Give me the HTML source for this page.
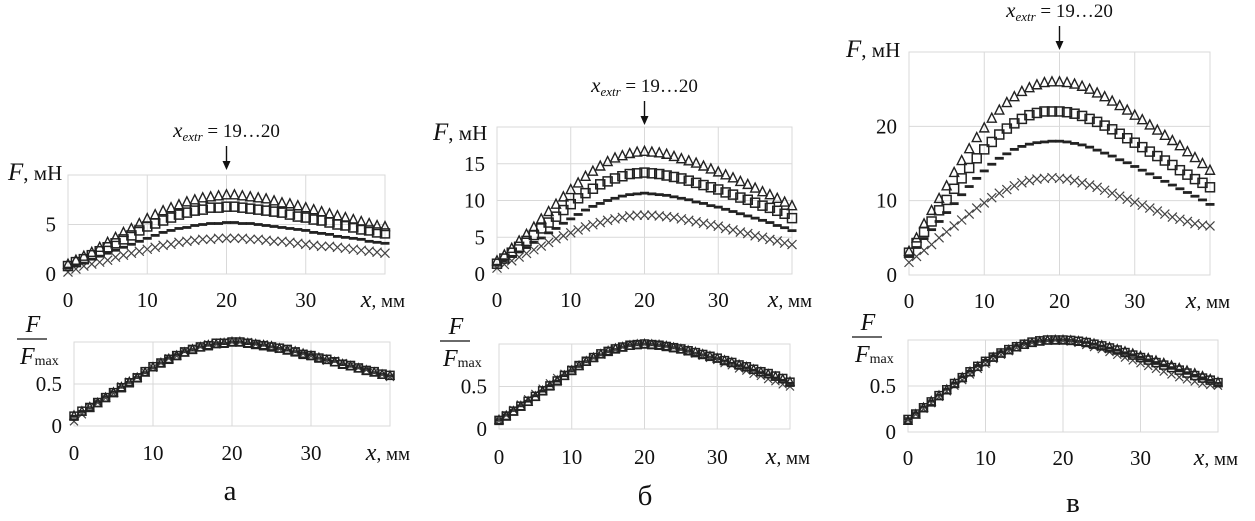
<!DOCTYPE html>
<html><head><meta charset="utf-8">
<style>
html,body{margin:0;padding:0;background:#fff;}
svg{display:block;}
text{font-family:"Liberation Serif",serif;fill:#111;}
</style></head>
<body>
<svg id="fig" width="1255" height="521" viewBox="0 0 1255 521" xmlns="http://www.w3.org/2000/svg"></svg>
<script>
const xValues = Array.from({length:41},(_, i)=>i);
const aTri = [1.0,1.4,1.8,2.2,2.7,3.2,3.7,4.2,4.6,5.1,5.6,6.0,6.4,6.7,7.0,7.3,7.5,7.7,7.8,7.9,8.0,8.0,7.9,7.8,7.7,7.6,7.4,7.2,7.1,6.9,6.7,6.5,6.3,6.1,5.9,5.7,5.5,5.3,5.1,4.9,4.8];
const aSq = [0.8,1.2,1.5,1.9,2.3,2.7,3.1,3.5,3.9,4.4,4.8,5.1,5.4,5.7,6.0,6.2,6.4,6.5,6.7,6.7,6.8,6.8,6.7,6.6,6.5,6.4,6.3,6.2,6.0,5.8,5.7,5.5,5.4,5.2,5.0,4.9,4.7,4.5,4.4,4.2,4.1];
const aDash = [0.6,0.9,1.1,1.5,1.8,2.1,2.4,2.7,3.0,3.3,3.6,3.9,4.2,4.4,4.6,4.7,4.9,5.0,5.1,5.1,5.2,5.2,5.1,5.1,5.0,4.9,4.8,4.7,4.6,4.5,4.4,4.2,4.1,4.0,3.8,3.7,3.6,3.5,3.3,3.2,3.1];
const aX = [0.2,0.5,0.8,1.0,1.2,1.4,1.7,1.9,2.1,2.3,2.5,2.7,2.9,3.0,3.2,3.3,3.4,3.5,3.5,3.6,3.6,3.6,3.6,3.5,3.5,3.4,3.3,3.3,3.2,3.1,3.0,2.9,2.8,2.8,2.7,2.6,2.5,2.4,2.3,2.2,2.1];
const bTri = [1.8,2.6,3.5,4.5,5.4,6.4,7.5,8.5,9.5,10.5,11.5,12.4,13.3,14.0,14.7,15.3,15.8,16.1,16.4,16.6,16.7,16.6,16.5,16.3,16.0,15.7,15.4,15.1,14.7,14.3,13.9,13.5,13.1,12.6,12.2,11.7,11.2,10.8,10.3,9.8,9.3];
const bSq = [1.4,2.1,2.9,3.7,4.5,5.3,6.2,7.0,7.8,8.7,9.5,10.3,11.0,11.6,12.2,12.6,13.0,13.3,13.6,13.7,13.8,13.7,13.6,13.4,13.2,13.0,12.7,12.4,12.1,11.8,11.5,11.1,10.8,10.4,10.1,9.7,9.3,9.0,8.6,8.2,7.6];
const bDash = [1.2,1.8,2.4,3.0,3.6,4.3,4.9,5.6,6.2,6.9,7.5,8.1,8.7,9.2,9.6,10.0,10.3,10.6,10.8,10.9,11.0,10.9,10.8,10.7,10.5,10.3,10.1,9.8,9.6,9.3,9.1,8.8,8.5,8.2,7.9,7.6,7.3,7.0,6.6,6.3,5.9];
const bX = [0.8,1.3,1.8,2.3,2.8,3.3,3.8,4.3,4.8,5.2,5.6,6.0,6.4,6.7,7.0,7.3,7.5,7.7,7.9,8.0,8.0,8.0,7.9,7.8,7.7,7.5,7.3,7.1,6.9,6.7,6.5,6.2,6.0,5.7,5.5,5.2,5.0,4.7,4.5,4.2,4.0];
const cTri = [3.2,5.0,6.9,8.7,10.3,12.0,13.8,15.4,17.0,18.5,19.8,21.1,22.2,23.2,24.0,24.7,25.2,25.6,25.9,26.0,26.0,25.9,25.7,25.4,25.0,24.5,24.0,23.4,22.8,22.2,21.5,20.9,20.2,19.5,18.8,18.1,17.4,16.6,15.8,15.0,14.1];
const cSq = [3.0,4.3,5.8,7.2,8.7,10.1,11.6,13.0,14.4,15.7,16.9,17.9,18.9,19.7,20.4,21.0,21.5,21.8,22.0,22.0,22.0,21.9,21.7,21.4,21.0,20.6,20.1,19.6,19.0,18.4,17.8,17.2,16.6,16.0,15.4,14.8,14.1,13.5,12.9,12.4,11.8];
const cDash = [2.6,3.7,4.9,6.1,7.2,8.4,9.6,10.8,11.9,13.0,14.0,14.9,15.7,16.3,16.9,17.3,17.6,17.8,17.9,18.0,18.0,17.9,17.7,17.5,17.2,16.8,16.4,16.0,15.5,15.1,14.6,14.1,13.6,13.1,12.6,12.1,11.6,11.1,10.6,10.1,9.5];
const cX = [1.7,2.5,3.3,4.1,5.0,5.8,6.6,7.4,8.2,9.0,9.7,10.4,11.0,11.5,12.0,12.4,12.7,12.9,13.0,13.1,13.0,12.9,12.7,12.4,12.1,11.8,11.4,11.0,10.6,10.2,9.8,9.4,9.0,8.6,8.2,7.8,7.5,7.2,6.9,6.7,6.6];
const xTicks = [0,10,20,30];
const aYTicks = [0,5], bYTicks = [0,5,10,15], cYTicks = [0,10,20];
const normTicks = [0,0.5];
const normTickLabels = ["0","0.5"];

const NS="http://www.w3.org/2000/svg";
const svg=document.getElementById('fig');
function mk(tag,attrs,parent){const e=document.createElementNS(NS,tag);for(const k in attrs)e.setAttribute(k,attrs[k]);(parent||svg).appendChild(e);return e;}

function marker(g,type,cx,cy,s){
  let e;
  if(type==='tri'){e=mk('polygon',{points:`${cx},${cy-s*0.55} ${cx-s*0.5},${cy+s*0.45} ${cx+s*0.5},${cy+s*0.45}`,fill:'none',stroke:'#222','stroke-width':1.4},g);}
  else if(type==='sq'){e=mk('rect',{x:cx-s/2,y:cy-s/2,width:s,height:s,fill:'none',stroke:'#222','stroke-width':1.5},g);}
  else if(type==='dash'){e=mk('rect',{x:cx-s/2,y:cy-1.4,width:s,height:2.8,fill:'#222'},g);}
  else {const h=s/2;e=mk('path',{d:`M${cx-h},${cy-h}L${cx+h},${cy+h}M${cx-h},${cy+h}L${cx+h},${cy-h}`,stroke:'#444','stroke-width':1.2},g);}
  
  
}

function plot(cfg){
  const g=mk('g',{});
  
  
  const sx=v=>cfg.x0+(v/40)*(cfg.x40-cfg.x0);
  const sy=v=>cfg.y0-(v/cfg.ymax)*(cfg.y0-cfg.yTop);
  const grid=mk('g',{},g);
  
  
  mk('rect',{x:cfg.x0,y:cfg.yTop,width:cfg.x40-cfg.x0,height:cfg.y0-cfg.yTop,fill:'none',stroke:'#d9d9d9','stroke-width':1},grid);
  xTicks.forEach(t=>{mk('line',{x1:sx(t),x2:sx(t),y1:cfg.yTop,y2:cfg.y0,stroke:'#d9d9d9'},grid);
    const tl=mk('text',{x:sx(t),y:cfg.xLabY,'text-anchor':'middle','font-size':21},g);tl.textContent=t;
    });
  cfg.yTicks.forEach((t,i)=>{mk('line',{x1:cfg.x0,x2:cfg.x40,y1:sy(t),y2:sy(t),stroke:'#d9d9d9'},grid);
    const tl=mk('text',{x:cfg.x0-12,y:sy(t)+7,'text-anchor':'end','font-size':21},g);tl.textContent=cfg.yLabels?cfg.yLabels[i]:t;
    });
  const xl=mk('text',{x:cfg.x40+20,y:cfg.xLabY,'text-anchor':'end','font-size':19},g);
  xl.innerHTML='<tspan font-style="italic" font-size="24">x</tspan>, мм';
  
  const types=['dash','x','sq','tri'];
  cfg.series.forEach((ser,si)=>{
    const sg=mk('g',{},g);
    
    
    const mx=Math.max(...ser);
    xValues.forEach((xv,i)=>{const v=cfg.norm?ser[i]/mx:ser[i];marker(sg,types[si],sx(xv),sy(v),cfg.ms);});
  });
  return {sx,sy};
}

function topPanel(cfg,ann){
  const p=plot(cfg);
  const fl=mk('text',{x:cfg.fx,y:cfg.fy,'font-size':21});
  fl.innerHTML='<tspan font-style="italic" font-size="25">F</tspan>, мН';
  
  const cx=p.sx(20);
  const at=mk('text',{x:cx,y:ann,'text-anchor':'middle','font-size':19});
  at.innerHTML='<tspan font-style="italic" font-size="21">x</tspan><tspan font-style="italic" font-size="13" dy="4">extr</tspan><tspan dy="-4"> = 19…20</tspan>';
  
  const ar=mk('g',{});
  
  mk('line',{x1:cx,x2:cx,y1:ann+9,y2:ann+28,stroke:'#111','stroke-width':1.4},ar);
  mk('polygon',{points:`${cx-4},${ann+24} ${cx+4},${ann+24} ${cx},${ann+33}`,fill:'#111'},ar);
}
function botPanel(cfg,label,lx,ly){
  cfg.norm=true;cfg.yTicks=normTicks;cfg.yLabels=normTickLabels;cfg.ymax=1;cfg.ms=8;
  plot(cfg);
  const fr=mk('g',{});
  
  const fx=cfg.fx;
  mk('text',{x:fx+16,y:cfg.yTop-10,'font-size':24,'font-style':'italic','text-anchor':'middle'},fr).textContent='F';
  mk('line',{x1:fx,x2:fx+30,y1:cfg.yTop-3,y2:cfg.yTop-3,stroke:'#111','stroke-width':1.3},fr);
  const d=mk('text',{x:fx+3,y:cfg.yTop+22,'font-size':24},fr);
  d.innerHTML='<tspan font-style="italic">F</tspan><tspan font-size="14" dy="1">max</tspan>';
  const pl=mk('text',{x:lx,y:ly,'text-anchor':'middle','font-size':29});
  pl.textContent=label;
  
}

topPanel({name:'chart-a-force',x0:68,x40:385,yTop:175,y0:274,ymax:10,yTicks:aYTicks,ms:9,xLabY:307,fx:8,fy:180,series:[aDash,aX,aSq,aTri]},137);
topPanel({name:'chart-b-force',x0:497,x40:792,yTop:127,y0:274,ymax:20,yTicks:bYTicks,ms:9,xLabY:307,fx:433,fy:140,series:[bDash,bX,bSq,bTri]},92);
topPanel({name:'chart-c-force',x0:909,x40:1210,yTop:52,y0:275,ymax:30,yTicks:cYTicks,ms:9,xLabY:308,fx:846,fy:57,series:[cDash,cX,cSq,cTri]},17);
botPanel({name:'chart-a-normalized',x0:74,x40:390,yTop:342,y0:426,xLabY:460,fx:17,series:[aDash,aX,aSq,aTri]},'а',230,500);
botPanel({name:'chart-b-normalized',x0:499,x40:790,yTop:344,y0:429,xLabY:464,fx:440,series:[bDash,bX,bSq,bTri]},'б',645,505);
botPanel({name:'chart-c-normalized',x0:908,x40:1218,yTop:340,y0:432,xLabY:465,fx:852,series:[cDash,cX,cSq,cTri]},'в',1073,512);
</script>
</body></html>
